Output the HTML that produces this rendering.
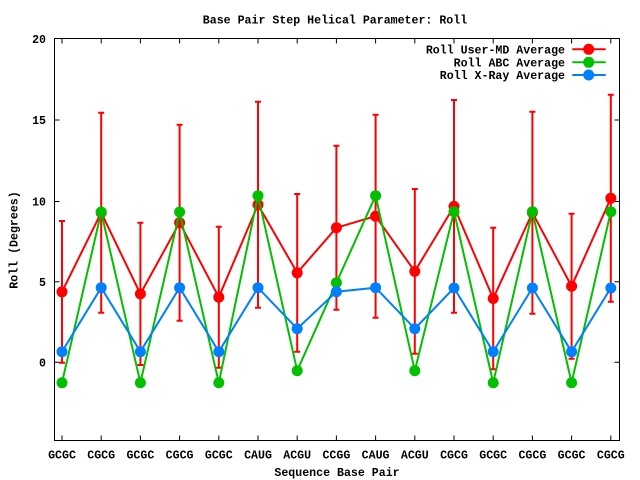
<!DOCTYPE html>
<html><head><meta charset="utf-8"><style>
html,body{margin:0;padding:0;background:#fff;}
svg{display:block;}
text{font-family:"Liberation Mono",monospace;font-weight:bold;font-size:11.6px;fill:#000;}
</style></head><body>
<svg width="640" height="480" viewBox="0 0 640 480" xmlns="http://www.w3.org/2000/svg">
<rect width="640" height="480" fill="#fff"/>
<text x="335" y="23.5" text-anchor="middle">Base Pair Step Helical Parameter: Roll</text>
<!-- y tick labels -->
<g text-anchor="end">
<text x="46" y="43">20</text>
<text x="46" y="124.2">15</text>
<text x="46" y="205.7">10</text>
<text x="46" y="285.9">5</text>
<text x="46" y="366.5">0</text>
</g>
<!-- x tick labels -->
<g text-anchor="middle">
<text x="62" y="458.5">GCGC</text>
<text x="101.2" y="458.5">CGCG</text>
<text x="140.4" y="458.5">GCGC</text>
<text x="179.6" y="458.5">CGCG</text>
<text x="218.8" y="458.5">GCGC</text>
<text x="258" y="458.5">CAUG</text>
<text x="297.2" y="458.5">ACGU</text>
<text x="336.4" y="458.5">CCGG</text>
<text x="375.6" y="458.5">CAUG</text>
<text x="414.8" y="458.5">ACGU</text>
<text x="454" y="458.5">CGCG</text>
<text x="493.2" y="458.5">GCGC</text>
<text x="532.4" y="458.5">CGCG</text>
<text x="571.6" y="458.5">GCGC</text>
<text x="610.8" y="458.5">CGCG</text>
</g>
<text x="337" y="476" text-anchor="middle">Sequence Base Pair</text>
<text transform="translate(17.5,240) rotate(-90)" text-anchor="middle">Roll (Degrees)</text>
<!-- border & ticks -->
<g stroke="#000" stroke-width="1" fill="none">
<rect x="54.5" y="38.5" width="565" height="402"/>
<path d="M54.5 38.5h5M54.5 120h5M54.5 201.5h5M54.5 281.7h5M54.5 362.3h5
M619.5 38.5h-5M619.5 120h-5M619.5 201.5h-5M619.5 281.7h-5M619.5 362.3h-5"/>
<path d="M62 440.5v-5M101.2 440.5v-5M140.4 440.5v-5M179.6 440.5v-5M218.8 440.5v-5M258 440.5v-5M297.2 440.5v-5M336.4 440.5v-5M375.6 440.5v-5M414.8 440.5v-5M454 440.5v-5M493.2 440.5v-5M532.4 440.5v-5M571.6 440.5v-5M610.8 440.5v-5
M62 38.5v5M101.2 38.5v5M140.4 38.5v5M179.6 38.5v5M218.8 38.5v5M258 38.5v5M297.2 38.5v5M336.4 38.5v5M375.6 38.5v5M414.8 38.5v5M454 38.5v5M493.2 38.5v5M532.4 38.5v5M571.6 38.5v5M610.8 38.5v5"/>
</g>
<!-- legend text -->
<g text-anchor="end">
<text x="565" y="53.3">Roll User-MD Average</text>
<text x="565" y="66.3">Roll ABC Average</text>
<text x="565" y="79">Roll X-Ray Average</text>
</g>
<!-- RED series -->
<g stroke="#ff0000" stroke-width="2" fill="none">
<path d="M62 221V362.7M59 221h6M59 362.7h6
M101.2 112.7V312.7M98.2 112.7h6M98.2 312.7h6
M140.4 222.7V365M137.4 222.7h6M137.4 365h6
M179.6 124.7V320.7M176.6 124.7h6M176.6 320.7h6
M218.8 226.7V367.7M215.8 226.7h6M215.8 367.7h6
M258 101.7V307.7M255 101.7h6M255 307.7h6
M297.2 194V351.7M294.2 194h6M294.2 351.7h6
M336.4 145.7V309.7M333.4 145.7h6M333.4 309.7h6
M375.6 114.7V317.7M372.6 114.7h6M372.6 317.7h6
M414.8 189V353.7M411.8 189h6M411.8 353.7h6
M454 100V312.7M451 100h6M451 312.7h6
M493.2 227.7V369.3M490.2 227.7h6M490.2 369.3h6
M532.4 111.7V313.7M529.4 111.7h6M529.4 313.7h6
M571.6 213.7V358.7M568.6 213.7h6M568.6 358.7h6
M610.8 94.7V301.7M607.8 94.7h6M607.8 301.7h6"/>
<polyline points="62,291.8 101.2,212.7 140.4,293.9 179.6,222.7 218.8,297.2 258,204.7 297.2,272.8 336.4,227.7 375.6,216.2 414.8,271.4 454,206.4 493.2,298.5 532.4,212.7 571.6,286.2 610.8,198.2"/>
<path d="M572.3 49.3H605.7"/>
</g>
<g fill="#ff0000">
<circle cx="62" cy="291.8" r="5.5"/><circle cx="101.2" cy="212.7" r="5.5"/><circle cx="140.4" cy="293.9" r="5.5"/><circle cx="179.6" cy="222.7" r="5.5"/><circle cx="218.8" cy="297.2" r="5.5"/><circle cx="258" cy="204.7" r="5.5"/><circle cx="297.2" cy="272.8" r="5.5"/><circle cx="336.4" cy="227.7" r="5.5"/><circle cx="375.6" cy="216.2" r="5.5"/><circle cx="414.8" cy="271.4" r="5.5"/><circle cx="454" cy="206.4" r="5.5"/><circle cx="493.2" cy="298.5" r="5.5"/><circle cx="532.4" cy="212.7" r="5.5"/><circle cx="571.6" cy="286.2" r="5.5"/><circle cx="610.8" cy="198.2" r="5.5"/>
<circle cx="588.7" cy="49.3" r="5.5"/>
</g>
<!-- GREEN series -->
<g stroke="#00c000" stroke-width="2" fill="none">
<polyline points="62,382.7 101.2,212 140.4,382.7 179.6,212 218.8,382.7 258,195.7 297.2,370.7 336.4,282.7 375.6,195.7 414.8,370.7 454,211.7 493.2,382.7 532.4,211.7 571.6,382.7 610.8,211.7"/>
<path d="M572.3 62.3H605.7"/>
</g>
<g fill="#00c000">
<circle cx="62" cy="382.7" r="5.5"/><circle cx="101.2" cy="212" r="5.5"/><circle cx="140.4" cy="382.7" r="5.5"/><circle cx="179.6" cy="212" r="5.5"/><circle cx="218.8" cy="382.7" r="5.5"/><circle cx="258" cy="195.7" r="5.5"/><circle cx="297.2" cy="370.7" r="5.5"/><circle cx="336.4" cy="282.7" r="5.5"/><circle cx="375.6" cy="195.7" r="5.5"/><circle cx="414.8" cy="370.7" r="5.5"/><circle cx="454" cy="211.7" r="5.5"/><circle cx="493.2" cy="382.7" r="5.5"/><circle cx="532.4" cy="211.7" r="5.5"/><circle cx="571.6" cy="382.7" r="5.5"/><circle cx="610.8" cy="211.7" r="5.5"/>
<circle cx="588.7" cy="62.3" r="5.5"/>
</g>
<!-- BLUE series -->
<g stroke="#0080ff" stroke-width="2" fill="none">
<polyline points="62,351.7 101.2,287.7 140.4,351.7 179.6,287.7 218.8,351.7 258,287.7 297.2,328.7 336.4,291.7 375.6,287.7 414.8,328.7 454,288 493.2,351.7 532.4,288 571.6,351.7 610.8,288"/>
<path d="M572.3 75H605.7"/>
</g>
<g fill="#0080ff">
<circle cx="62" cy="351.7" r="5.5"/><circle cx="101.2" cy="287.7" r="5.5"/><circle cx="140.4" cy="351.7" r="5.5"/><circle cx="179.6" cy="287.7" r="5.5"/><circle cx="218.8" cy="351.7" r="5.5"/><circle cx="258" cy="287.7" r="5.5"/><circle cx="297.2" cy="328.7" r="5.5"/><circle cx="336.4" cy="291.7" r="5.5"/><circle cx="375.6" cy="287.7" r="5.5"/><circle cx="414.8" cy="328.7" r="5.5"/><circle cx="454" cy="288" r="5.5"/><circle cx="493.2" cy="351.7" r="5.5"/><circle cx="532.4" cy="288" r="5.5"/><circle cx="571.6" cy="351.7" r="5.5"/><circle cx="610.8" cy="288" r="5.5"/>
<circle cx="588.7" cy="75" r="5.5"/>
</g>
</svg>
</body></html>
